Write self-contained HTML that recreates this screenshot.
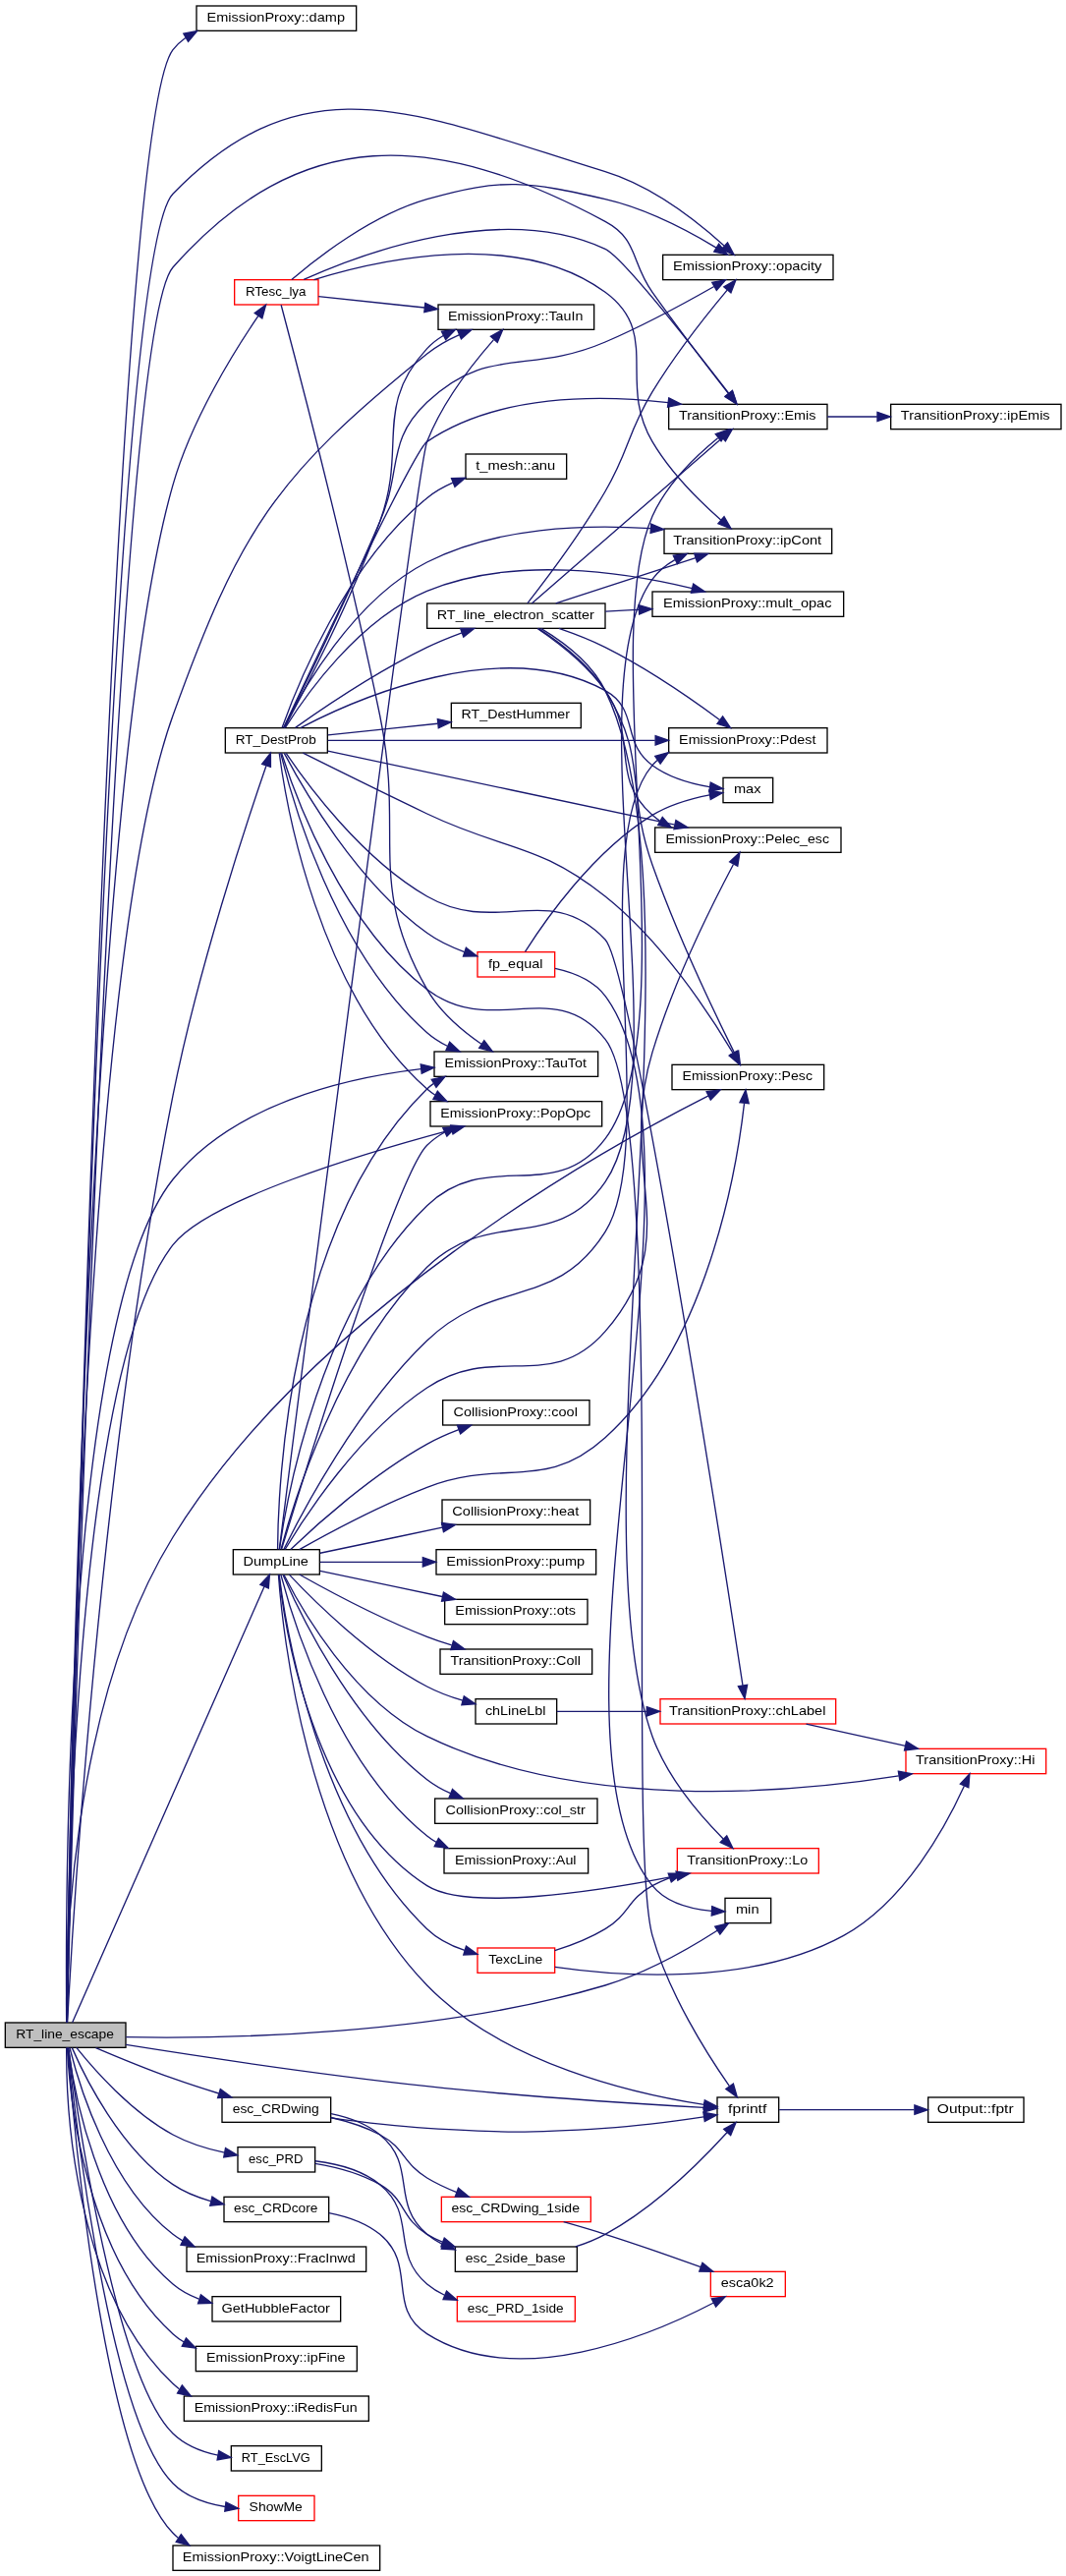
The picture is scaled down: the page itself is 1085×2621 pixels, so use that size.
<!DOCTYPE html>
<html lang="en">
<head>
<meta charset="utf-8">
<title>RT_line_escape call graph</title>
<style>
html,body{margin:0;padding:0;background:#fff}
svg{display:block;position:absolute;left:0;top:0;will-change:transform}
text{font-family:"Liberation Sans",sans-serif;font-size:10px;text-anchor:middle;fill:#000}
rect{stroke-width:1}
.n{fill:#fff;stroke:#000}
.r{fill:#fff;stroke:#f00}
.g{fill:#bfbfbf;stroke:#000}
path{fill:none;stroke:#191970;stroke-width:1}
polygon{fill:#191970;stroke:#191970;stroke-width:1}
</style>
</head>
<body>
<svg width="1085.33" height="2621.33" viewBox="0 0 814 1966">
<g transform="translate(4 1962)">
<rect class="g" x="0" y="-418.5" width="92" height="19"/>
<text x="45.55" y="-406.5" textLength="74.77" lengthAdjust="spacingAndGlyphs">RT_line_escape</text>
<rect class="n" x="146" y="-1957.5" width="122" height="19"/>
<text x="206.55" y="-1945.5" textLength="105.36" lengthAdjust="spacingAndGlyphs">EmissionProxy::damp</text>
<path d="M47.2,-418.64C49.84,-544.47 78.61,-1860.74 128,-1924 130.75,-1927.52 134,-1930.53 137.59,-1933.12"/>
<polygon points="136.12,-1936.31 146.5,-1938.39 139.68,-1930.29"/>
<rect class="n" x="174" y="-779.5" width="66" height="19"/>
<text x="206.55" y="-767.5" textLength="49.87" lengthAdjust="spacingAndGlyphs">DumpLine</text>
<path d="M51.25,-418.66C72.68,-467.3 168.88,-685.72 197.77,-751.32"/>
<polygon points="194.57,-752.74 201.81,-760.48 200.98,-749.92"/>
<rect class="n" x="506.5" y="-1653.5" width="121" height="19"/>
<text x="566.55" y="-1641.5" textLength="104.71" lengthAdjust="spacingAndGlyphs">TransitionProxy::Emis</text>
<path d="M47.24,-418.67C50.21,-537.12 80.68,-1704.71 128,-1758 225.93,-1868.28 327.96,-1862.59 458,-1793 483.43,-1779.39 477.28,-1762.5 494,-1739 513.57,-1711.49 537.44,-1680.45 552.18,-1661.56"/>
<polygon points="555.04,-1663.6 558.44,-1653.57 549.52,-1659.28"/>
<rect class="n" x="543.5" y="-361.5" width="47" height="19"/>
<text x="566.55" y="-349.5" textLength="29.44" lengthAdjust="spacingAndGlyphs">fprintf</text>
<path d="M92.14,-401.65C146.53,-393.01 240.74,-378.75 322,-370 397.42,-361.88 486.36,-356.33 533.25,-353.71"/>
<polygon points="533.62,-357.2 543.42,-353.16 533.24,-350.21"/>
<rect class="n" x="509" y="-1149.5" width="116" height="19"/>
<text x="566.55" y="-1137.5" textLength="99.33" lengthAdjust="spacingAndGlyphs">EmissionProxy::Pesc</text>
<path d="M46.77,-418.68C46.13,-464.17 48.33,-659.82 128,-789 234.42,-961.55 457.14,-1085.46 536.85,-1125.83"/>
<polygon points="535.34,-1128.98 545.84,-1130.33 538.47,-1122.73"/>
<rect class="n" x="324.5" y="-1121.5" width="131" height="19"/>
<text x="389.55" y="-1109.5" textLength="114.65" lengthAdjust="spacingAndGlyphs">EmissionProxy::PopOpc</text>
<path d="M47,-418.54C47.17,-487.85 51.37,-914.37 128,-1012 154.93,-1046.31 272.74,-1081.75 340.52,-1099.81"/>
<polygon points="339.98,-1103.28 350.54,-1102.45 341.77,-1096.52"/>
<rect class="n" x="330.5" y="-1729.5" width="119" height="19"/>
<text x="389.55" y="-1717.5" textLength="103.00" lengthAdjust="spacingAndGlyphs">EmissionProxy::TauIn</text>
<path d="M47.08,-418.55C47.91,-509.16 56.68,-1218.45 128,-1416 178.92,-1557.03 205.13,-1598.07 322,-1692 329.29,-1697.86 337.98,-1702.67 346.64,-1706.55"/>
<polygon points="345.39,-1709.82 355.97,-1710.41 348.07,-1703.36"/>
<rect class="n" x="327.5" y="-1159.5" width="125" height="19"/>
<text x="389.55" y="-1147.5" textLength="108.17" lengthAdjust="spacingAndGlyphs">EmissionProxy::TauTot</text>
<path d="M46.86,-418.87C45.97,-492.59 43.81,-957.09 128,-1062 173.48,-1118.67 256.93,-1139.07 317.25,-1146.29"/>
<polygon points="317.15,-1149.8 327.47,-1147.42 317.91,-1142.84"/>
<rect class="n" x="167" y="-285.5" width="80" height="19"/>
<text x="206.55" y="-273.5" textLength="64.05" lengthAdjust="spacingAndGlyphs">esc_CRDcore</text>
<path d="M51.02,-399.27C60.71,-377.05 87.61,-322.39 128,-295 136.56,-289.19 146.72,-285.15 156.83,-282.35"/>
<polygon points="157.95,-285.68 166.86,-279.93 156.32,-278.87"/>
<rect class="n" x="165.5" y="-361.5" width="83" height="19"/>
<text x="206.55" y="-349.5" textLength="66.04" lengthAdjust="spacingAndGlyphs">esc_CRDwing</text>
<path d="M69.14,-399.36C85.31,-392.47 107.83,-383.19 128,-376 139.25,-371.99 151.55,-368.01 162.99,-364.49"/>
<polygon points="164.22,-367.77 172.77,-361.52 162.18,-361.08"/>
<rect class="n" x="177.5" y="-323.5" width="59" height="19"/>
<text x="206.55" y="-311.5" textLength="41.44" lengthAdjust="spacingAndGlyphs">esc_PRD</text>
<path d="M54.36,-399.42C67.38,-383.16 96.12,-350.26 128,-333 139.99,-326.51 154.21,-322.2 167.2,-319.36"/>
<polygon points="168.15,-322.74 177.29,-317.38 166.81,-315.87"/>
<rect class="n" x="138.5" y="-247.5" width="137" height="19"/>
<text x="206.55" y="-235.5" textLength="121.38" lengthAdjust="spacingAndGlyphs">EmissionProxy::FracInwd</text>
<path d="M49.2,-399.39C55.88,-372.38 78.63,-295.32 128,-257 130.32,-255.2 132.79,-253.56 135.37,-252.08"/>
<polygon points="137.05,-255.16 144.48,-247.61 133.96,-248.87"/>
<rect class="n" x="158" y="-209.5" width="98" height="19"/>
<text x="206.55" y="-197.5" textLength="82.82" lengthAdjust="spacingAndGlyphs">GetHubbleFactor</text>
<path d="M48.1,-399.34C52.19,-368.06 69.48,-268.63 128,-219 133.77,-214.1 140.61,-210.43 147.79,-207.68"/>
<polygon points="149.3,-210.87 157.74,-204.48 147.15,-204.21"/>
<rect class="n" x="145.5" y="-171.5" width="123" height="19"/>
<text x="206.55" y="-159.5" textLength="106.22" lengthAdjust="spacingAndGlyphs">EmissionProxy::ipFine</text>
<path d="M47.33,-399.48C49.08,-364.55 60.02,-242.35 128,-181 130.61,-178.64 133.47,-176.56 136.5,-174.73"/>
<polygon points="138.09,-177.85 145.42,-170.2 134.92,-171.61"/>
<rect class="n" x="136.5" y="-133.5" width="141" height="19"/>
<text x="206.55" y="-121.5" textLength="124.45" lengthAdjust="spacingAndGlyphs">EmissionProxy::iRedisFun</text>
<path d="M46.78,-399.29C46.45,-360.62 50.63,-216.11 128,-143 129.52,-141.56 131.13,-140.23 132.81,-138.99"/>
<polygon points="135.03,-141.75 141.77,-133.58 131.4,-135.76"/>
<rect class="n" x="549.5" y="-513.5" width="35" height="19"/>
<text x="566.55" y="-501.5" textLength="17.76" lengthAdjust="spacingAndGlyphs">min</text>
<path d="M92.18,-407.48C169.03,-406.14 329.38,-408.77 458,-447 489.51,-456.37 522.47,-475.3 543.56,-488.77"/>
<polygon points="541.82,-491.81 552.11,-494.34 545.64,-485.95"/>
<rect class="n" x="502" y="-1767.5" width="130" height="19"/>
<text x="566.55" y="-1755.5" textLength="113.51" lengthAdjust="spacingAndGlyphs">EmissionProxy::opacity</text>
<path d="M47.2,-418.71C49.71,-540.16 76.26,-1760.69 128,-1814 230.29,-1919.38 317.58,-1874.01 458,-1831 493.98,-1819.98 528.77,-1792.49 548.75,-1774.56"/>
<polygon points="551.38,-1776.9 556.36,-1767.54 546.64,-1771.75"/>
<rect class="n" x="168" y="-1406.5" width="78" height="19"/>
<text x="206.55" y="-1394.5" textLength="61.43" lengthAdjust="spacingAndGlyphs">RT_DestProb</text>
<path d="M47.49,-418.8C50.76,-482.15 71.17,-840.34 128,-1126 147.11,-1222.06 183.98,-1333.47 199.19,-1377.59"/>
<polygon points="195.98,-1379.01 202.56,-1387.3 202.59,-1376.71"/>
<rect class="n" x="172.5" y="-95.5" width="69" height="19"/>
<text x="206.55" y="-83.5" textLength="52.32" lengthAdjust="spacingAndGlyphs">RT_EscLVG</text>
<path d="M48.26,-399.23C54.53,-352.04 83.89,-148.17 128,-105 137.2,-96 149.9,-91.02 162.39,-88.33"/>
<polygon points="163.03,-91.77 172.29,-86.63 161.84,-84.87"/>
<rect class="r" x="175" y="-1748.5" width="64" height="19"/>
<text x="206.55" y="-1736.5" textLength="46.22" lengthAdjust="spacingAndGlyphs">RTesc_lya</text>
<path d="M47.1,-418.56C48.26,-517.36 59.97,-1353.71 128,-1592 142.26,-1641.95 174.97,-1694.25 193.17,-1720.96"/>
<polygon points="190.38,-1723.07 198.95,-1729.29 196.13,-1719.08"/>
<rect class="r" x="178" y="-57.5" width="58" height="19"/>
<text x="206.55" y="-45.5" textLength="40.66" lengthAdjust="spacingAndGlyphs">ShowMe</text>
<path d="M47.94,-399.39C53.02,-349.07 78.97,-116.34 128,-67 138.43,-56.5 153.64,-51.44 167.86,-49.12"/>
<polygon points="168.46,-52.57 177.95,-47.87 167.6,-45.62"/>
<rect class="n" x="128" y="-19.5" width="158" height="19"/>
<text x="206.55" y="-7.5" textLength="142.34" lengthAdjust="spacingAndGlyphs">EmissionProxy::VoigtLineCen</text>
<path d="M47.69,-399.41C51.74,-345.89 74.06,-84.52 128,-29 129.27,-27.69 130.61,-26.47 132.02,-25.33"/>
<polygon points="134.26,-28.04 140.67,-19.6 130.4,-22.2"/>
<rect class="n" x="335" y="-551.5" width="110" height="19"/>
<text x="389.55" y="-539.5" textLength="92.75" lengthAdjust="spacingAndGlyphs">EmissionProxy::Aul</text>
<path d="M210.37,-760.37C219.04,-727.2 252.24,-616.71 322,-561 324.26,-559.2 326.68,-557.56 329.21,-556.09"/>
<polygon points="330.78,-559.21 338.19,-551.64 327.67,-552.94"/>
<rect class="n" x="359" y="-665.5" width="62" height="19"/>
<text x="389.55" y="-653.5" textLength="46.27" lengthAdjust="spacingAndGlyphs">chLineLbl</text>
<path d="M216.77,-760.38C234.68,-741.29 277.57,-698.44 322,-675 330.4,-670.57 339.96,-667.06 349.17,-664.34"/>
<polygon points="350.22,-667.68 358.96,-661.68 348.39,-660.92"/>
<rect class="r" x="687.5" y="-627.5" width="107" height="19"/>
<text x="740.55" y="-615.5" textLength="90.96" lengthAdjust="spacingAndGlyphs">TransitionProxy::Hi</text>
<path d="M212.71,-760.28C225.8,-734.52 265.42,-664.6 322,-637 439.36,-579.76 598,-593.53 682.08,-606.82"/>
<polygon points="681.77,-610.31 692.2,-608.47 682.9,-603.41"/>
<rect class="n" x="328" y="-589.5" width="124" height="19"/>
<text x="389.55" y="-577.5" textLength="106.82" lengthAdjust="spacingAndGlyphs">CollisionProxy::col_str</text>
<path d="M212.09,-760.19C224.39,-731.81 263.84,-648.81 322,-604 327.39,-599.85 333.57,-596.37 339.94,-593.47"/>
<polygon points="341.41,-596.65 349.34,-589.62 338.76,-590.17"/>
<rect class="n" x="332" y="-703.5" width="116" height="19"/>
<text x="389.55" y="-691.5" textLength="99.32" lengthAdjust="spacingAndGlyphs">TransitionProxy::Coll</text>
<path d="M224.55,-760.49C246.34,-748.25 286.1,-726.92 322,-713 327.99,-710.68 334.38,-708.5 340.75,-706.51"/>
<polygon points="342.1,-709.75 350.68,-703.53 340.09,-703.05"/>
<rect class="n" x="334" y="-893.5" width="112" height="19"/>
<text x="389.55" y="-881.5" textLength="94.70" lengthAdjust="spacingAndGlyphs">CollisionProxy::cool</text>
<path d="M217.87,-779.66C236.7,-797.64 279.66,-836.53 322,-860 329.53,-864.18 337.93,-867.86 346.17,-871"/>
<polygon points="345.1,-874.34 355.7,-874.45 347.48,-867.76"/>
<path d="M209.28,-779.72C214.87,-818.49 240.66,-963.7 322,-1042 368.51,-1086.77 419.25,-1041.37 458,-1093 521.54,-1177.67 451.12,-1471.21 494,-1568 504.85,-1592.48 527.05,-1613.95 543.95,-1627.77"/>
<polygon points="542.2,-1630.85 552.22,-1634.28 546.52,-1625.34"/>
<path d="M208.57,-760.32C211.63,-717.43 229.54,-542.47 322,-447 380.44,-386.66 481.63,-363.94 533.41,-355.96"/>
<polygon points="533.99,-359.41 543.38,-354.51 532.98,-352.48"/>
<rect class="n" x="333.5" y="-817.5" width="113" height="19"/>
<text x="389.55" y="-805.5" textLength="96.72" lengthAdjust="spacingAndGlyphs">CollisionProxy::heat</text>
<path d="M240.36,-776.79C266.21,-782.22 303.05,-789.95 333.58,-796.36"/>
<polygon points="333.16,-799.85 343.66,-798.48 334.6,-793"/>
<rect class="n" x="503" y="-1558.5" width="128" height="19"/>
<text x="566.55" y="-1546.5" textLength="113.15" lengthAdjust="spacingAndGlyphs">TransitionProxy::ipCont</text>
<path d="M210.52,-779.92C219.7,-814.16 254.35,-928.89 322,-995 369.92,-1041.82 420.09,-1004.77 458,-1060 516.02,-1144.54 433.34,-1437.33 494,-1520 498.49,-1526.13 504.5,-1530.96 511.14,-1534.77"/>
<polygon points="509.97,-1538.1 520.49,-1539.37 513.06,-1531.82"/>
<rect class="r" x="513" y="-551.5" width="108" height="19"/>
<text x="566.55" y="-539.5" textLength="92.18" lengthAdjust="spacingAndGlyphs">TransitionProxy::Lo</text>
<path d="M208.91,-760.31C213.1,-721.81 234.28,-579.13 322,-523 352.47,-503.5 450.35,-518.35 512.49,-530.48"/>
<polygon points="512.03,-533.95 522.52,-532.47 513.39,-527.09"/>
<rect class="n" x="335.5" y="-741.5" width="109" height="19"/>
<text x="389.55" y="-729.5" textLength="92.05" lengthAdjust="spacingAndGlyphs">EmissionProxy::ots</text>
<path d="M240.36,-763.21C266.21,-757.78 303.05,-750.05 333.58,-743.64"/>
<polygon points="334.6,-747 343.66,-741.52 333.16,-740.15"/>
<rect class="n" x="506.5" y="-1406.5" width="121" height="19"/>
<text x="566.55" y="-1394.5" textLength="104.46" lengthAdjust="spacingAndGlyphs">EmissionProxy::Pdest</text>
<path d="M212.71,-779.83C226.38,-807.59 268.52,-887.9 322,-939 373.2,-987.92 420.28,-962.07 458,-1022 500.36,-1089.29 442.36,-1317.53 494,-1378 495.18,-1379.39 496.45,-1380.68 497.8,-1381.88"/>
<polygon points="496.05,-1384.92 506.23,-1387.84 500.08,-1379.21"/>
<rect class="n" x="496" y="-1330.5" width="142" height="19"/>
<text x="566.55" y="-1318.5" textLength="124.91" lengthAdjust="spacingAndGlyphs">EmissionProxy::Pelec_esc</text>
<path d="M213.58,-779.64C228.18,-804.01 270,-868.62 322,-903 374.88,-937.96 416.39,-898.17 458,-946 521.02,-1018.43 466.29,-1067.08 494,-1159 510.29,-1213.04 540.19,-1272.78 555.84,-1302.33"/>
<polygon points="552.93,-1304.31 560.73,-1311.47 559.09,-1301"/>
<path d="M224.54,-779.53C246.32,-791.79 286.08,-813.15 322,-827 380.56,-849.58 411.42,-822.94 458,-865 536.05,-935.49 558.35,-1069.46 564.14,-1120.02"/>
<polygon points="560.69,-1120.66 565.21,-1130.25 567.65,-1119.93"/>
<path d="M210.94,-779.73C226.4,-830.59 298.36,-1064.36 322,-1088 325.93,-1091.93 330.55,-1095.22 335.5,-1097.98"/>
<polygon points="334.14,-1101.21 344.67,-1102.38 337.17,-1094.89"/>
<rect class="n" x="329" y="-779.5" width="122" height="19"/>
<text x="389.55" y="-767.5" textLength="105.57" lengthAdjust="spacingAndGlyphs">EmissionProxy::pump</text>
<path d="M240.36,-770C262.09,-770 291.57,-770 318.55,-770"/>
<polygon points="318.75,-773.5 328.75,-770 318.75,-766.5"/>
<path d="M209.22,-779.65C220.97,-872.45 313.81,-1604.11 322,-1625 333.77,-1655.04 356.96,-1684.6 372.72,-1702.57"/>
<polygon points="370.49,-1705.32 379.78,-1710.42 375.69,-1700.64"/>
<path d="M207.94,-779.76C208.21,-826.3 215.66,-1027.76 322,-1131 323.5,-1132.45 325.1,-1133.8 326.78,-1135.04"/>
<polygon points="325.39,-1138.29 335.77,-1140.44 329,-1132.29"/>
<rect class="r" x="360.5" y="-475.5" width="59" height="19"/>
<text x="389.55" y="-463.5" textLength="41.37" lengthAdjust="spacingAndGlyphs">TexcLine</text>
<path d="M209.08,-760.5C214.03,-721.3 238.06,-570.43 322,-490 329.91,-482.42 340.38,-477.21 350.68,-473.64"/>
<polygon points="351.86,-476.94 360.42,-470.7 349.84,-470.24"/>
<rect class="r" x="500" y="-665.5" width="134" height="19"/>
<text x="566.55" y="-653.5" textLength="119.48" lengthAdjust="spacingAndGlyphs">TransitionProxy::chLabel</text>
<path d="M421.08,-656C439.98,-656 465.28,-656 489.44,-656"/>
<polygon points="489.7,-659.5 499.7,-656 489.7,-652.5"/>
<path d="M611.4,-646.41C634.41,-641.33 662.85,-635.04 687.13,-629.68"/>
<polygon points="687.9,-633.09 696.91,-627.52 686.39,-626.26"/>
<rect class="n" x="676" y="-1653.5" width="130" height="19"/>
<text x="740.55" y="-1641.5" textLength="113.84" lengthAdjust="spacingAndGlyphs">TransitionProxy::ipEmis</text>
<path d="M627.67,-1644C639.92,-1644 652.96,-1644 665.66,-1644"/>
<polygon points="665.74,-1647.5 675.74,-1644 665.74,-1640.5"/>
<rect class="n" x="704.5" y="-361.5" width="73" height="19"/>
<text x="740.55" y="-349.5" textLength="58.28" lengthAdjust="spacingAndGlyphs">Output::fptr</text>
<path d="M590.84,-352C616.98,-352 660.47,-352 693.76,-352"/>
<polygon points="694.18,-355.5 704.18,-352 694.18,-348.5"/>
<path d="M419.63,-460.96C468.27,-453.91 568.7,-445.95 640,-485 686.92,-510.7 718.28,-568.8 732.04,-598.99"/>
<polygon points="728.95,-600.65 736.18,-608.4 735.36,-597.84"/>
<path d="M419.5,-473.45C431.85,-477.36 446.15,-482.85 458,-490 476.58,-501.21 474.95,-512.59 494,-523 498.18,-525.28 502.64,-527.3 507.22,-529.08"/>
<polygon points="506.15,-532.41 516.74,-532.42 508.47,-525.81"/>
<rect class="r" x="538.5" y="-228.5" width="57" height="19"/>
<text x="566.55" y="-216.5" textLength="40.41" lengthAdjust="spacingAndGlyphs">esca0k2</text>
<path d="M247.15,-273.32C260.64,-270.72 275.09,-265.89 286,-257 314.98,-233.39 290.42,-200.99 322,-181 391.48,-137.03 493.8,-180.27 540.76,-204.73"/>
<polygon points="539.18,-207.85 549.65,-209.48 542.48,-201.68"/>
<path d="M248.52,-345.8C270.25,-342.79 297.52,-339.5 322,-338 382.33,-334.31 397.68,-334.11 458,-338 483.34,-339.64 511.82,-343.41 533.17,-346.63"/>
<polygon points="532.91,-350.13 543.33,-348.2 533.98,-343.21"/>
<rect class="n" x="343.5" y="-247.5" width="93" height="19"/>
<text x="389.55" y="-235.5" textLength="76.45" lengthAdjust="spacingAndGlyphs">esc_2side_base</text>
<path d="M248.76,-349C261.78,-346.34 275.52,-341.54 286,-333 314.98,-309.39 293.47,-281.15 322,-257 325.67,-253.89 329.82,-251.29 334.21,-249.12"/>
<polygon points="335.61,-252.32 343.48,-245.22 332.9,-245.87"/>
<rect class="r" x="333" y="-285.5" width="114" height="19"/>
<text x="389.55" y="-273.5" textLength="97.89" lengthAdjust="spacingAndGlyphs">esc_CRDwing_1side</text>
<path d="M248.69,-346.13C261.15,-343.28 274.57,-339.11 286,-333 305.15,-322.78 303.42,-311.21 322,-300 328.99,-295.78 336.85,-292.14 344.64,-289.06"/>
<polygon points="345.9,-292.33 354.07,-285.58 343.47,-285.76"/>
<path d="M435.36,-247.55C443.15,-250.07 450.99,-253.18 458,-257 495.75,-277.57 531.57,-313.43 550.98,-334.72"/>
<polygon points="548.53,-337.24 557.81,-342.36 553.75,-332.57"/>
<path d="M426.24,-266.45C436.52,-263.54 447.74,-260.26 458,-257 482.53,-249.21 509.88,-239.58 530.92,-231.96"/>
<polygon points="532.2,-235.22 540.4,-228.51 529.81,-228.64"/>
<path d="M236.53,-311.03C251.98,-308.48 270.93,-303.74 286,-295 306.12,-283.33 302.1,-269.05 322,-257 325.67,-254.78 329.6,-252.81 333.66,-251.07"/>
<polygon points="335.19,-254.23 343.29,-247.39 332.7,-247.69"/>
<rect class="r" x="345" y="-209.5" width="90" height="19"/>
<text x="389.55" y="-197.5" textLength="73.29" lengthAdjust="spacingAndGlyphs">esc_PRD_1side</text>
<path d="M236.63,-312.95C252.67,-311.02 272.17,-306.27 286,-295 314.98,-271.39 293.47,-243.15 322,-219 325.99,-215.62 330.55,-212.84 335.37,-210.55"/>
<polygon points="336.89,-213.71 344.87,-206.74 334.28,-207.22"/>
<path d="M214.39,-1387.2C229.89,-1364.26 271.92,-1306.84 322,-1278 375.9,-1246.96 415.28,-1290.21 458,-1245 478.28,-1223.54 547.66,-776.08 562.99,-675.82"/>
<polygon points="566.46,-676.23 564.51,-665.82 559.54,-675.17"/>
<path d="M212.55,-1406.76C232.5,-1449.46 311.74,-1618.1 322,-1625 376.14,-1661.44 453.15,-1660.99 506.1,-1654.8"/>
<polygon points="506.55,-1658.28 516.03,-1653.54 505.66,-1651.33"/>
<path d="M210.91,-1387.37C220.86,-1356.15 256.54,-1256.91 322,-1207 371.91,-1168.95 418.76,-1217.98 458,-1169 505.59,-1109.61 473.38,-558.26 494,-485 506.49,-440.63 535.71,-394.56 552.84,-370"/>
<polygon points="555.81,-371.86 558.76,-361.68 550.11,-367.8"/>
<path d="M212.68,-1406.87C225.69,-1433.04 265.12,-1504.16 322,-1533 374.6,-1559.67 441.97,-1562.11 492.59,-1558.76"/>
<polygon points="493.09,-1562.23 502.8,-1557.99 492.57,-1555.25"/>
<path d="M246.31,-1397C305.83,-1397 421.42,-1397 496.08,-1397"/>
<polygon points="496.34,-1400.5 506.34,-1397 496.34,-1393.5"/>
<path d="M246.31,-1388.87C309.97,-1375.35 437.75,-1348.23 511.02,-1332.67"/>
<polygon points="511.93,-1336.06 520.98,-1330.56 510.47,-1329.21"/>
<path d="M227.3,-1387.35C249.92,-1376.09 288.57,-1356.95 322,-1341 382.12,-1312.31 405.8,-1319.38 458,-1278 501.72,-1243.34 538.22,-1187.53 555.41,-1158.65"/>
<polygon points="558.65,-1160.04 560.67,-1149.64 552.61,-1156.51"/>
<path d="M209.17,-1387.29C214.35,-1348.63 238.79,-1204.14 322,-1131 323.95,-1129.29 326.04,-1127.73 328.23,-1126.31"/>
<polygon points="330.01,-1129.33 337.15,-1121.51 326.69,-1123.17"/>
<path d="M213.17,-1406.54C226.63,-1431.69 263.3,-1502.11 286,-1564 306.94,-1621.09 280.7,-1651.36 322,-1696 325.58,-1699.87 329.83,-1703.11 334.42,-1705.84"/>
<polygon points="333.08,-1709.09 343.59,-1710.46 336.23,-1702.83"/>
<path d="M210.2,-1387.39C218.5,-1353.21 251.13,-1236.29 322,-1174 326.58,-1169.98 331.88,-1166.61 337.45,-1163.8"/>
<polygon points="339.28,-1166.82 347.02,-1159.58 336.46,-1160.42"/>
<path d="M212.78,-1406.7C225.3,-1432.22 259.92,-1503.46 286,-1564 303.21,-1603.94 290.48,-1625.03 322,-1655 368.25,-1698.96 399.38,-1675.81 458,-1701 487.35,-1713.62 519.57,-1731.13 541.11,-1743.4"/>
<polygon points="539.52,-1746.52 549.93,-1748.48 543.01,-1740.46"/>
<rect class="n" x="351.5" y="-1615.5" width="77" height="19"/>
<text x="389.55" y="-1603.5" textLength="60.81" lengthAdjust="spacingAndGlyphs">t_mesh::anu</text>
<path d="M211.29,-1406.62C222.11,-1436.93 259.58,-1531.39 322,-1582 327.81,-1586.71 334.61,-1590.53 341.62,-1593.62"/>
<polygon points="340.63,-1597 351.22,-1597.4 343.2,-1590.48"/>
<rect class="r" x="360.5" y="-1235.5" width="59" height="19"/>
<text x="389.55" y="-1223.5" textLength="41.51" lengthAdjust="spacingAndGlyphs">fp_equal</text>
<path d="M212.98,-1387.22C226.75,-1361.14 267.89,-1289.25 322,-1250 330.48,-1243.85 340.68,-1239.14 350.55,-1235.6"/>
<polygon points="351.81,-1238.87 360.22,-1232.43 349.62,-1232.22"/>
<rect class="n" x="548" y="-1368.5" width="38" height="19"/>
<text x="566.55" y="-1356.5" textLength="20.69" lengthAdjust="spacingAndGlyphs">max</text>
<path d="M225.36,-1406.58C267.93,-1428.68 379.76,-1478.12 458,-1435 484.24,-1420.54 469.84,-1395.72 494,-1378 506.63,-1368.74 523.42,-1363.99 537.62,-1361.55"/>
<polygon points="538.44,-1364.97 547.85,-1360.11 537.46,-1358.04"/>
<rect class="n" x="494" y="-1510.5" width="146" height="19"/>
<text x="566.55" y="-1498.5" textLength="128.67" lengthAdjust="spacingAndGlyphs">EmissionProxy::mult_opac</text>
<path d="M213.89,-1406.84C228.58,-1430.31 269.51,-1489.26 322,-1511 388.51,-1538.55 474.14,-1525.15 524.26,-1513.01"/>
<polygon points="525.26,-1516.37 534.1,-1510.53 523.54,-1509.58"/>
<rect class="n" x="340.5" y="-1425.5" width="99" height="19"/>
<text x="389.55" y="-1413.5" textLength="82.82" lengthAdjust="spacingAndGlyphs">RT_DestHummer</text>
<path d="M246.39,-1401.03C270.68,-1403.58 302.57,-1406.93 330.03,-1409.81"/>
<polygon points="330.01,-1413.33 340.32,-1410.89 330.74,-1406.36"/>
<rect class="n" x="322" y="-1501.5" width="136" height="19"/>
<text x="389.55" y="-1489.5" textLength="120.07" lengthAdjust="spacingAndGlyphs">RT_line_electron_scatter</text>
<path d="M221.49,-1406.74C242.3,-1421.43 283.8,-1449.52 322,-1468 330.41,-1472.07 339.7,-1475.83 348.62,-1479.11"/>
<polygon points="347.49,-1482.42 358.09,-1482.47 349.83,-1475.82"/>
<path d="M419.8,-1223.02C433.62,-1220.01 449.07,-1213.99 458,-1202 548.22,-1080.79 398.65,-640.22 494,-523 504.74,-509.8 523.47,-505.15 539.13,-503.75"/>
<polygon points="539.54,-507.23 549.35,-503.23 539.19,-500.24"/>
<path d="M396.88,-1235.66C410.83,-1257.74 448.21,-1312.11 494,-1340 507.2,-1348.04 523.77,-1352.71 537.68,-1355.41"/>
<polygon points="537.26,-1358.89 547.71,-1357.11 538.44,-1351.99"/>
<path d="M401.95,-1501.51C431.04,-1526.78 510.56,-1595.85 547.14,-1627.62"/>
<polygon points="545.21,-1630.58 555.06,-1634.5 549.8,-1625.3"/>
<path d="M420.29,-1501.54C449.57,-1511.08 494.75,-1525.79 527.04,-1536.31"/>
<polygon points="526.02,-1539.66 536.61,-1539.43 528.19,-1533"/>
<path d="M408.89,-1482.5C424.93,-1472.88 447.52,-1456.4 458,-1435 536.09,-1275.58 433.66,-803.94 494,-637 505.28,-605.78 530.7,-576.38 548.11,-558.78"/>
<polygon points="550.78,-561.06 555.46,-551.56 545.87,-556.07"/>
<path d="M422.66,-1482.39C434.05,-1478.48 446.83,-1473.57 458,-1468 490.15,-1451.96 524.34,-1428.21 545.43,-1412.67"/>
<polygon points="547.7,-1415.34 553.63,-1406.56 543.52,-1409.73"/>
<path d="M406.26,-1482.39C421.27,-1472.24 443.92,-1454.97 458,-1435 484.02,-1398.1 460.45,-1370.22 494,-1340 495.76,-1338.42 497.63,-1336.97 499.59,-1335.63"/>
<polygon points="501.7,-1338.46 508.7,-1330.51 498.27,-1332.36"/>
<path d="M406.97,-1482.48C422.3,-1472.53 445,-1455.51 458,-1435 490.79,-1383.28 473.5,-1359.71 494,-1302 512.89,-1248.82 541.66,-1188.7 556.47,-1158.87"/>
<polygon points="559.74,-1160.16 561.08,-1149.65 553.48,-1157.03"/>
<path d="M398.62,-1501.61C411.71,-1518.36 438.87,-1554.23 458,-1587 476.84,-1619.28 474.61,-1631.05 494,-1663 511.43,-1691.71 535.69,-1722.2 551.13,-1740.67"/>
<polygon points="548.6,-1743.11 557.73,-1748.49 553.95,-1738.59"/>
<path d="M458.16,-1495.45C466.54,-1495.89 475.19,-1496.33 483.77,-1496.77"/>
<polygon points="483.62,-1500.27 493.79,-1497.29 483.98,-1493.28"/>
<path d="M227.91,-1748.64C271.75,-1768.41 378.99,-1808.71 458,-1772 470.77,-1766.07 526.04,-1695.84 552.19,-1662"/>
<polygon points="555.12,-1663.93 558.45,-1653.88 549.58,-1659.66"/>
<path d="M235.63,-1748.6C285.44,-1764.01 391.31,-1787.88 458,-1739 500.86,-1707.59 467.04,-1670.79 494,-1625 507.82,-1601.53 530.14,-1579.49 546.26,-1565.25"/>
<polygon points="548.76,-1567.73 554.06,-1558.55 544.19,-1562.42"/>
<path d="M239.12,-1735.73C261.35,-1733.4 292.15,-1730.17 320.05,-1727.24"/>
<polygon points="320.59,-1730.7 330.17,-1726.18 319.86,-1723.74"/>
<path d="M210.6,-1729.28C220.99,-1690.18 260.26,-1540.57 286,-1416 305.07,-1323.69 275.31,-1288.88 322,-1207 331.84,-1189.75 348.96,-1175.32 363.44,-1165.29"/>
<polygon points="365.6,-1168.06 372.02,-1159.64 361.74,-1162.22"/>
<path d="M218.63,-1748.55C237.69,-1764.96 279.63,-1797.88 322,-1810 380.12,-1826.62 399.07,-1823.45 458,-1810 489.1,-1802.9 521.69,-1785.66 542.82,-1772.96"/>
<polygon points="544.73,-1775.9 551.41,-1767.67 541.06,-1769.94"/>
</g>
</svg>
</body>
</html>
